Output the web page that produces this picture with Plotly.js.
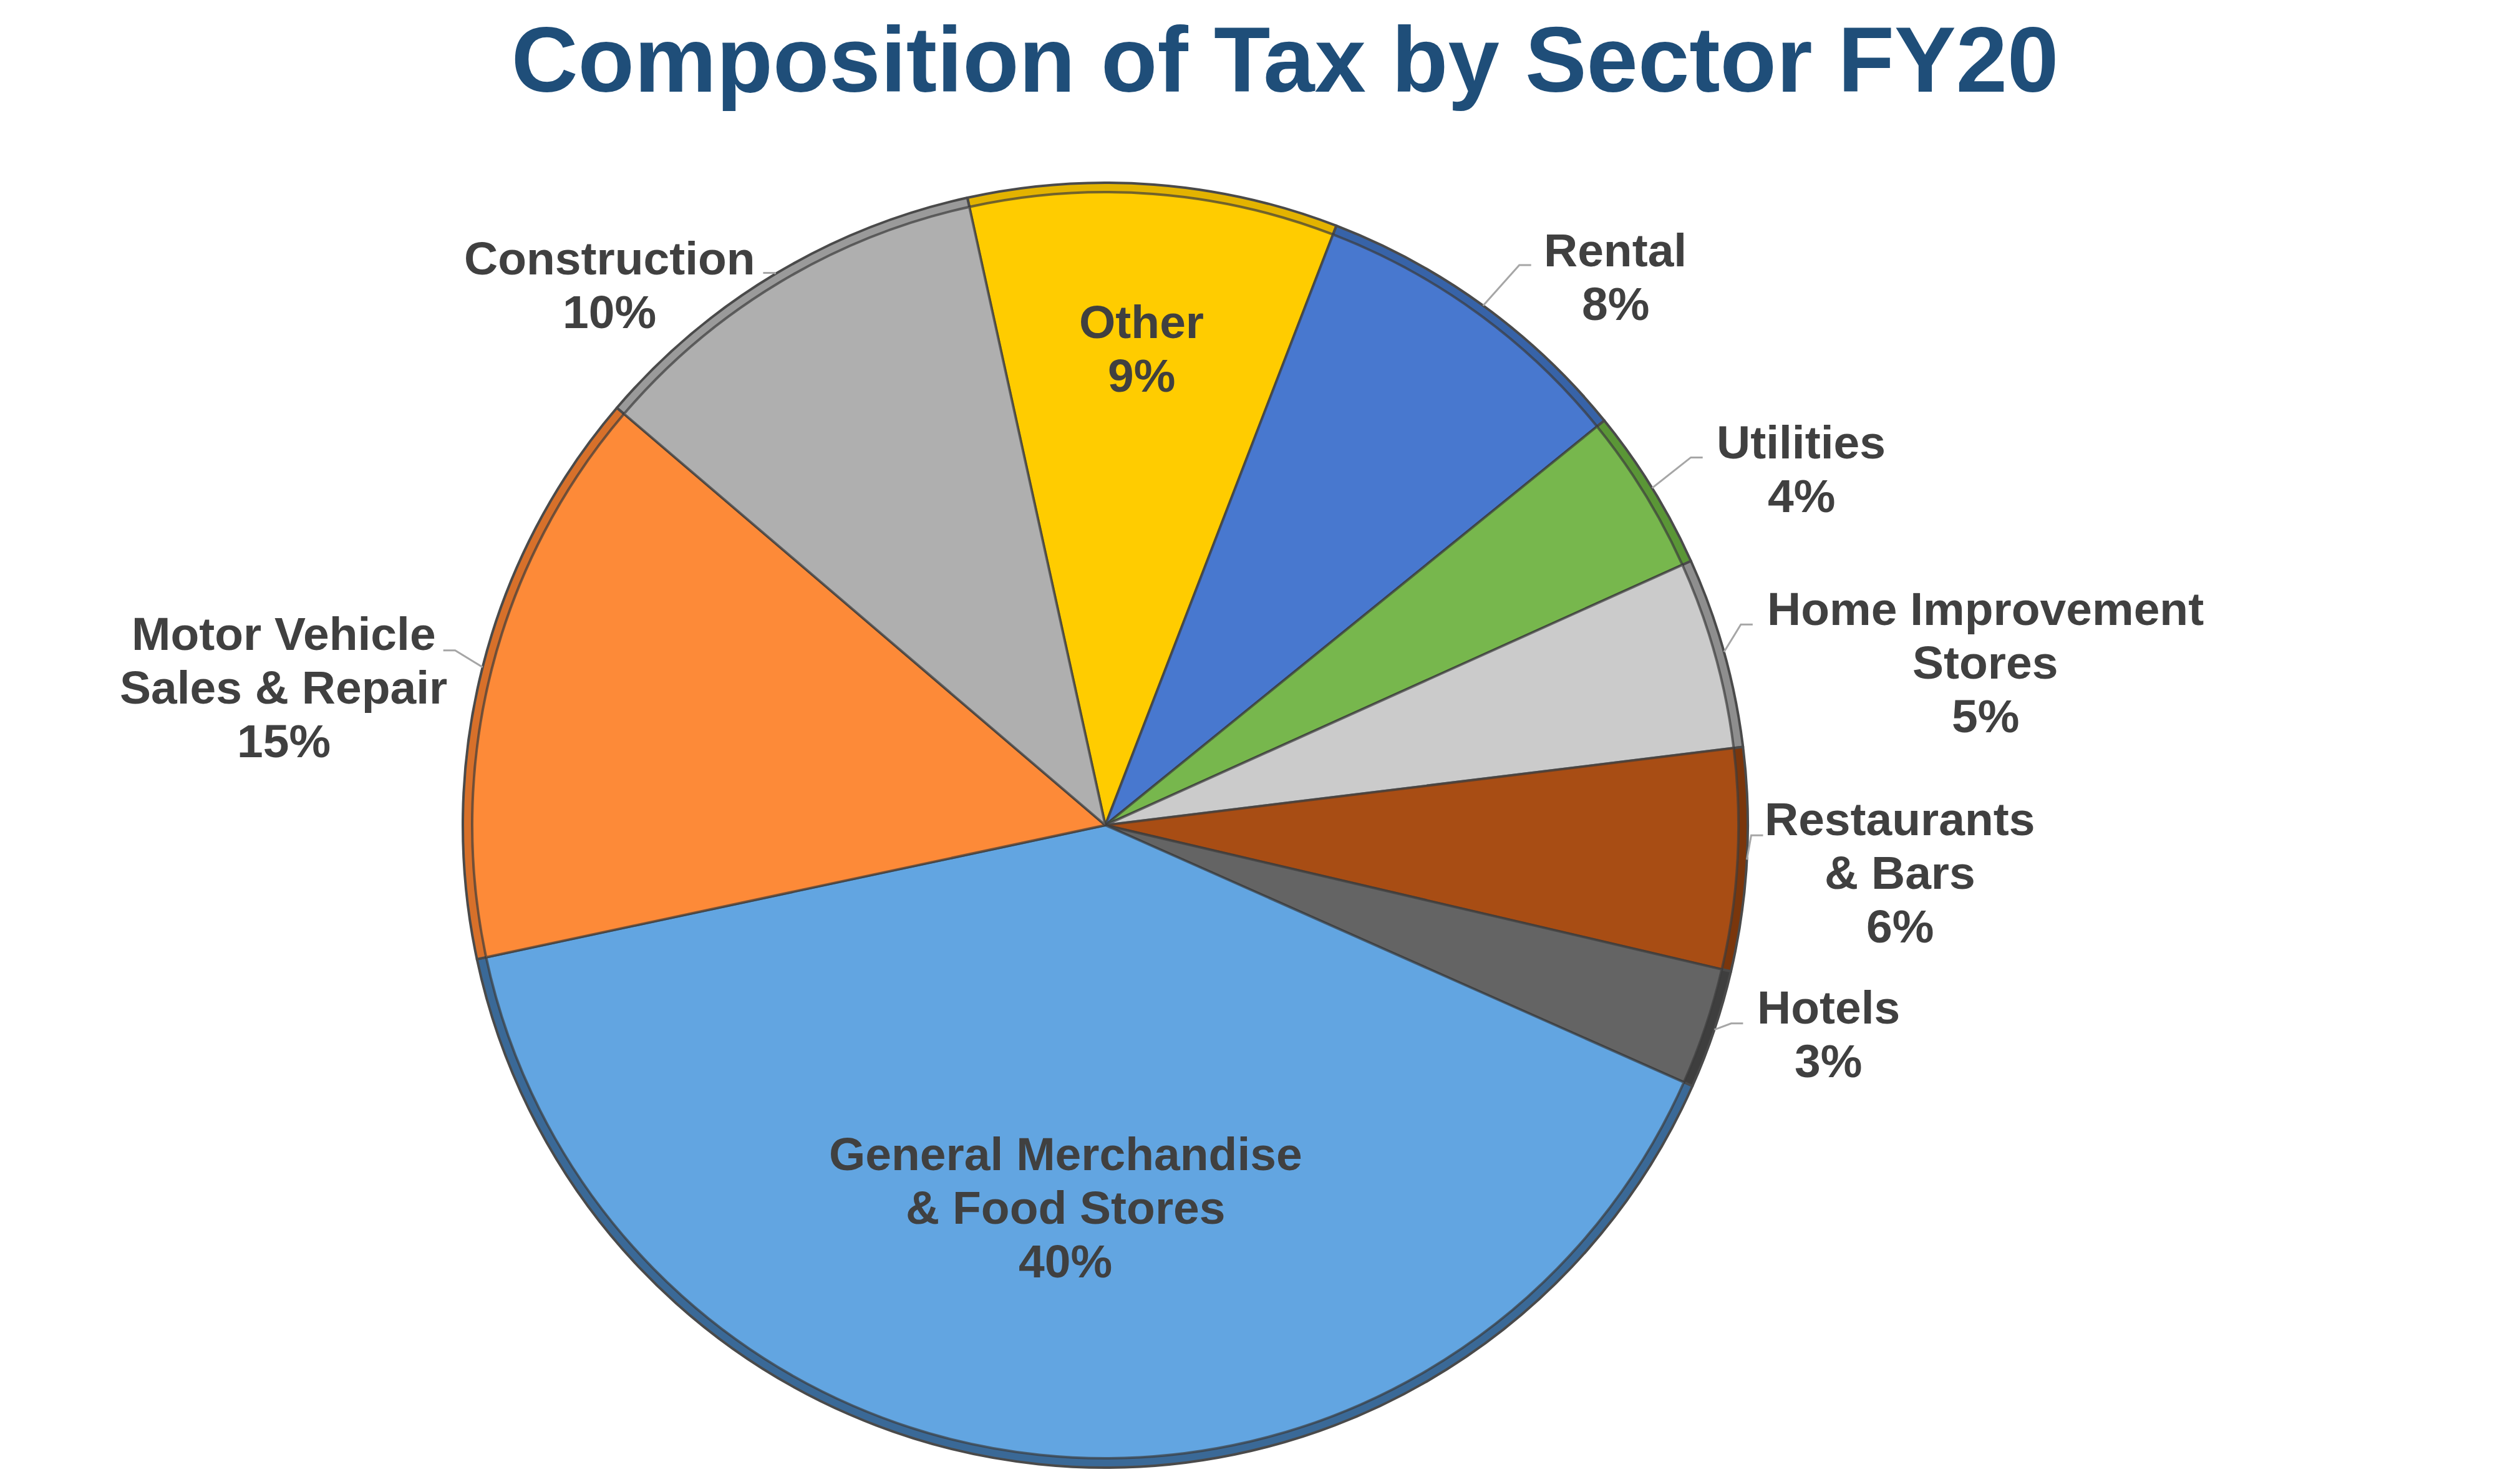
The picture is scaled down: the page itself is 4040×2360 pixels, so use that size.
<!DOCTYPE html>
<html>
<head>
<meta charset="utf-8">
<script src="https://cdn.plot.ly/plotly-3.0.1.min.js"></script>
<style>
html, body { margin: 0; padding: 0; background: #ffffff; }
#chart { width: 4040px; height: 2360px; }
</style>
</head>
<body>
<div id="chart"></div>
<script>
// ---------------- data ----------------
const sectors = ['Other', 'Rental', 'Utilities', 'Home Improvement Stores', 'Restaurants & Bars',
                 'Hotels', 'General Merchandise & Food Stores', 'Motor Vehicle Sales & Repair', 'Construction'];
const labelLines = [['Other'], ['Rental'], ['Utilities'], ['Home Improvement', 'Stores'], ['Restaurants', '& Bars'],
                    ['Hotels'], ['General Merchandise', '& Food Stores'], ['Motor Vehicle', 'Sales & Repair'], ['Construction']];
const taxShare = [9.3, 8.3, 4.1, 4.8, 5.6, 3.0, 40.0, 14.6, 10.3];
const titleText = 'Composition of Tax by Sector FY20';

// ---------------- styles ----------------
const faceColors = ['#FFCC00', '#4878CF', '#77B74D', '#CBCBCB', '#A84D14', '#646464', '#62A5E1', '#FD8A38', '#AFAFAF'];
const rimColors  = ['#E3B300', '#3763A8', '#5A9636', '#8E8E8E', '#7A360C', '#3E3E3E', '#3A6997', '#D7702A', '#9A9A9A'];

const W = 4040, H = 2360;
const CX = 1772, CY = 1323, R = 1030, RIM = 15;
const ROT = -12.4;
const FONT = 'Liberation Sans, Arial, Helvetica, sans-serif';
const FS = 75, LINE = 86, TXT = '#404040';

// label placement: inside -> radial fraction; outside -> elbow / text offsets from slice-edge point
const placement = [
  {inside: 0.744},
  {elbow: [58, -65],  dir: 1,  text: [212, -63]},
  {elbow: [62, -49],  dir: 1,  text: [239, -47]},
  {elbow: [27, -44],  dir: 1,  text: [419, -43]},
  {elbow: [7, -39],   dir: 1,  text: [245, -39]},
  {elbow: [27, -10],  dir: 1,  text: [183, -10]},
  {inside: 0.598},
  {elbow: [-44, -27], dir: -1, text: [-319, -28]},
  {elbow: [0, -2],    dir: -1, text: [-265, 0]}
];

function px2x(x) { return x / W; }
function px2y(y) { return 1 - y / H; }
function domainFor(r) {
  return { x: [px2x(CX - r), px2x(CX + r)], y: [px2y(CY + r), px2y(CY - r)] };
}

const total = taxShare.reduce((a, b) => a + b, 0);
const pctText = taxShare.map(v => Math.round(v / total * 100) + '%');

// mid angles (deg, clockwise from 12 o'clock)
const midAngles = [];
let acc = ROT;
taxShare.forEach(v => { const span = v / total * 360; midAngles.push(acc + span / 2); acc += span; });

const rimTrace = {
  type: 'pie', values: taxShare, labels: sectors, sort: false, direction: 'clockwise', rotation: ROT,
  domain: domainFor(R), textinfo: 'none', hoverinfo: 'skip', showlegend: false,
  marker: { colors: rimColors, line: { color: '#4a4a4a', width: 4 } }
};
const faceTrace = {
  type: 'pie', values: taxShare, labels: sectors, sort: false, direction: 'clockwise', rotation: ROT,
  domain: domainFor(R - RIM), textinfo: 'none', hoverinfo: 'skip', showlegend: false,
  marker: { colors: faceColors, line: { color: 'rgba(60,60,60,0.7)', width: 4 } }
};

const annotations = [];
const shapes = [];

function addLine(text, x, capMid) {
  annotations.push({
    xref: 'paper', yref: 'paper', x: px2x(x), y: px2y(capMid),
    xanchor: 'center', yanchor: 'middle', showarrow: false, text: text,
    font: { family: FONT, size: FS, color: TXT, weight: 'bold' }
  });
}

taxShare.forEach((v, i) => {
  const a = midAngles[i] * Math.PI / 180;
  const lines = labelLines[i].concat([pctText[i]]);
  const n = lines.length;
  const p = placement[i];
  if (p.inside !== undefined) {
    const px = CX + R * p.inside * Math.sin(a);
    const py = CY - R * p.inside * Math.cos(a);
    lines.forEach((t, k) => addLine(t, px, py + (k - (n - 1) / 2) * LINE));
  } else {
    const ex = CX + R * Math.sin(a), ey = CY - R * Math.cos(a);
    const bx = ex + p.elbow[0], by = ey + p.elbow[1];
    const sx = bx + p.dir * 19;
    shapes.push({
      type: 'path', xref: 'paper', yref: 'paper',
      path: 'M' + px2x(ex) + ',' + px2y(ey) + ' L' + px2x(bx) + ',' + px2y(by) + ' L' + px2x(sx) + ',' + px2y(by),
      line: { color: '#A6A6A6', width: 3 }
    });
    const tx = ex + p.text[0], baseline = ey + p.text[1];
    lines.forEach((t, k) => addLine(t, tx, baseline + k * LINE - 26));
  }
});

const layout = {
  width: W, height: H,
  margin: { l: 0, r: 0, t: 0, b: 0, pad: 0 },
  paper_bgcolor: '#ffffff', plot_bgcolor: '#ffffff',
  showlegend: false,
  title: {
    text: titleText, xref: 'container', yref: 'container', x: 2060 / W, y: 1 - 95 / H,
    xanchor: 'center', yanchor: 'middle',
    font: { family: FONT, size: 148, color: '#1F4E79', weight: 'bold' }
  },
  annotations: annotations,
  shapes: shapes
};

Plotly.newPlot('chart', [rimTrace, faceTrace], layout, { displayModeBar: false, staticPlot: true });
</script>
</body>
</html>
